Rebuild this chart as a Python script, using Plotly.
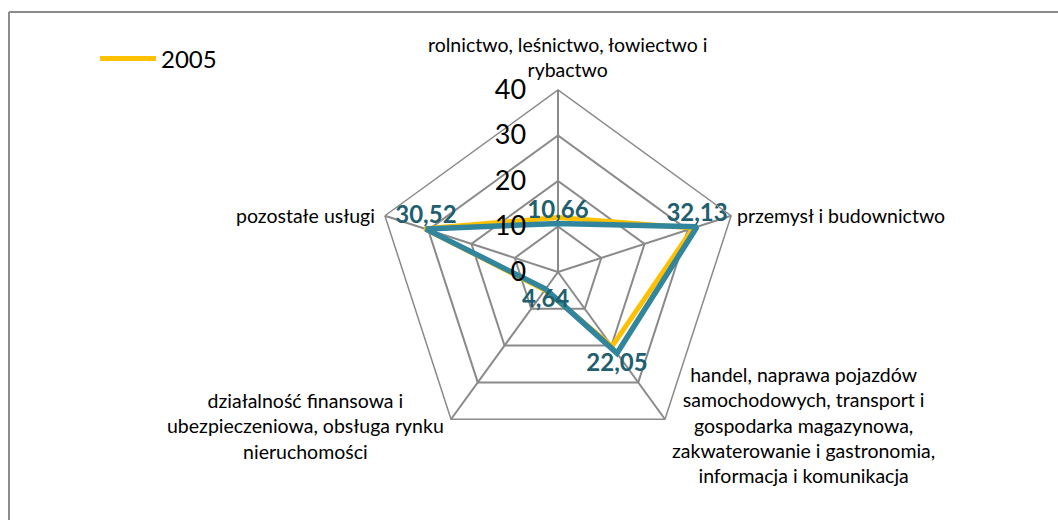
import plotly.graph_objects as go

# ------------------------------------------------------------------ data

categories = [
    "rolnictwo, leśnictwo, łowiectwo i rybactwo",
    "przemysł i budownictwo",
    "handel, naprawa pojazdów samochodowych, transport i gospodarka magazynowa, zakwaterowanie i gastronomia, informacja i komunikacja",
    "działalność finansowa i ubezpieczeniowa, obsługa rynku nieruchomości",
    "pozostałe usługi",
]
values_2005 = [12.0, 31.2, 20.2, 4.9, 30.8]
values_2011 = [10.66, 32.13, 22.05, 4.64, 30.52]
labels_2011 = ["10,66", "32,13", "22,05", "4,64", "30,52"]
radial_ticks = [0, 10, 20, 30, 40]

# ------------------------------------------------------------------ style

font_family = "Lato, 'DejaVu Sans', sans-serif"
grid_color = "#8a8a8a"
yellow = "#FFC000"
teal = "#31859C"
label_color = "#215E6E"

W, H = 1058, 520
cx, cy, rad = 558, 272, 182  # polar centre and radius in pixels

fig = go.Figure()

fig.add_trace(go.Scatterpolar(
    r=values_2005 + values_2005[:1],
    theta=categories + categories[:1],
    mode="lines",
    line=dict(color=yellow, width=5),
    name="2005",
))

fig.add_trace(go.Scatterpolar(
    r=values_2011 + values_2011[:1],
    theta=categories + categories[:1],
    mode="lines+text",
    line=dict(color=teal, width=5.5),
    text=labels_2011 + [""],
    textposition=["top center", "top center", "bottom center", "bottom center", "top center", "top center"],
    textfont=dict(family=font_family, size=24, color=label_color, weight="bold"),
    name="2011",
    showlegend=False,
))

# category labels placed around the pentagon
annotations = [
    dict(text="rolnictwo, leśnictwo, łowiectwo i<br>rybactwo", x=567, y=57, xanchor="center"),
    dict(text="przemysł i budownictwo", x=735, y=215, xanchor="left"),
    dict(text="handel, naprawa pojazdów<br>samochodowych, transport i<br>gospodarka magazynowa,<br>zakwaterowanie i gastronomia,<br>informacja i komunikacja",
         x=803, y=425, xanchor="center"),
    dict(text="działalność finansowa i<br>ubezpieczeniowa, obsługa rynku<br>nieruchomości", x=305, y=426, xanchor="center"),
    dict(text="pozostałe usługi", x=377, y=215, xanchor="right"),
]
for a in annotations:
    fig.add_annotation(
        text=a["text"], xref="paper", yref="paper",
        x=a["x"] / W, y=1 - a["y"] / H,
        xanchor=a["xanchor"], yanchor="middle", align="center",
        showarrow=False,
        font=dict(family=font_family, size=19.5, color="#000000"),
    )

# chart area border: only the top and left edges are inside the crop
border = dict(color="#8c8c8c", width=2)
fig.add_shape(type="line", xref="paper", yref="paper",
              x0=9 / W, x1=1.0, y0=1 - 12 / H, y1=1 - 12 / H, line=border)
fig.add_shape(type="line", xref="paper", yref="paper",
              x0=9 / W, x1=9 / W, y0=0.0, y1=1 - 12 / H, line=border)

fig.update_layout(
    width=W,
    height=H,
    margin=dict(l=0, r=0, t=0, b=0),
    paper_bgcolor="white",
    plot_bgcolor="white",
    font=dict(family=font_family),
    showlegend=True,
    legend=dict(x=95 / W, y=1 - 59 / H, xanchor="left", yanchor="middle",
                font=dict(size=24, color="#000000"), bgcolor="rgba(0,0,0,0)",
                itemwidth=56),
    polar=dict(
        domain=dict(x=[(cx - rad) / W, (cx + rad) / W], y=[1 - (cy + rad) / H, 1 - (cy - rad) / H]),
        bgcolor="white",
        gridshape="linear",
        angularaxis=dict(
            rotation=90,
            direction="clockwise",
            showticklabels=False,
            ticks="",
            showline=True,
            linecolor=grid_color,
            linewidth=1.5,
            gridcolor=grid_color,
            gridwidth=1.5,
        ),
        radialaxis=dict(
            range=[0, 40],
            tickvals=radial_ticks,
            angle=90,
            tickangle=90,
            side="counterclockwise",
            showline=False,
            ticks="outside",
            ticklen=22,
            tickcolor="rgba(0,0,0,0)",
            gridcolor=grid_color,
            gridwidth=1.5,
            tickfont=dict(family=font_family, size=27, color="#000000"),
        ),
    ),
)

page_fix = ("document.body.style.margin='0';"
            "document.body.style.overflow='hidden';"
            "document.documentElement.style.overflow='hidden';")
fig.write_html("out.html", config={"displayModeBar": False}, post_script=page_fix)
